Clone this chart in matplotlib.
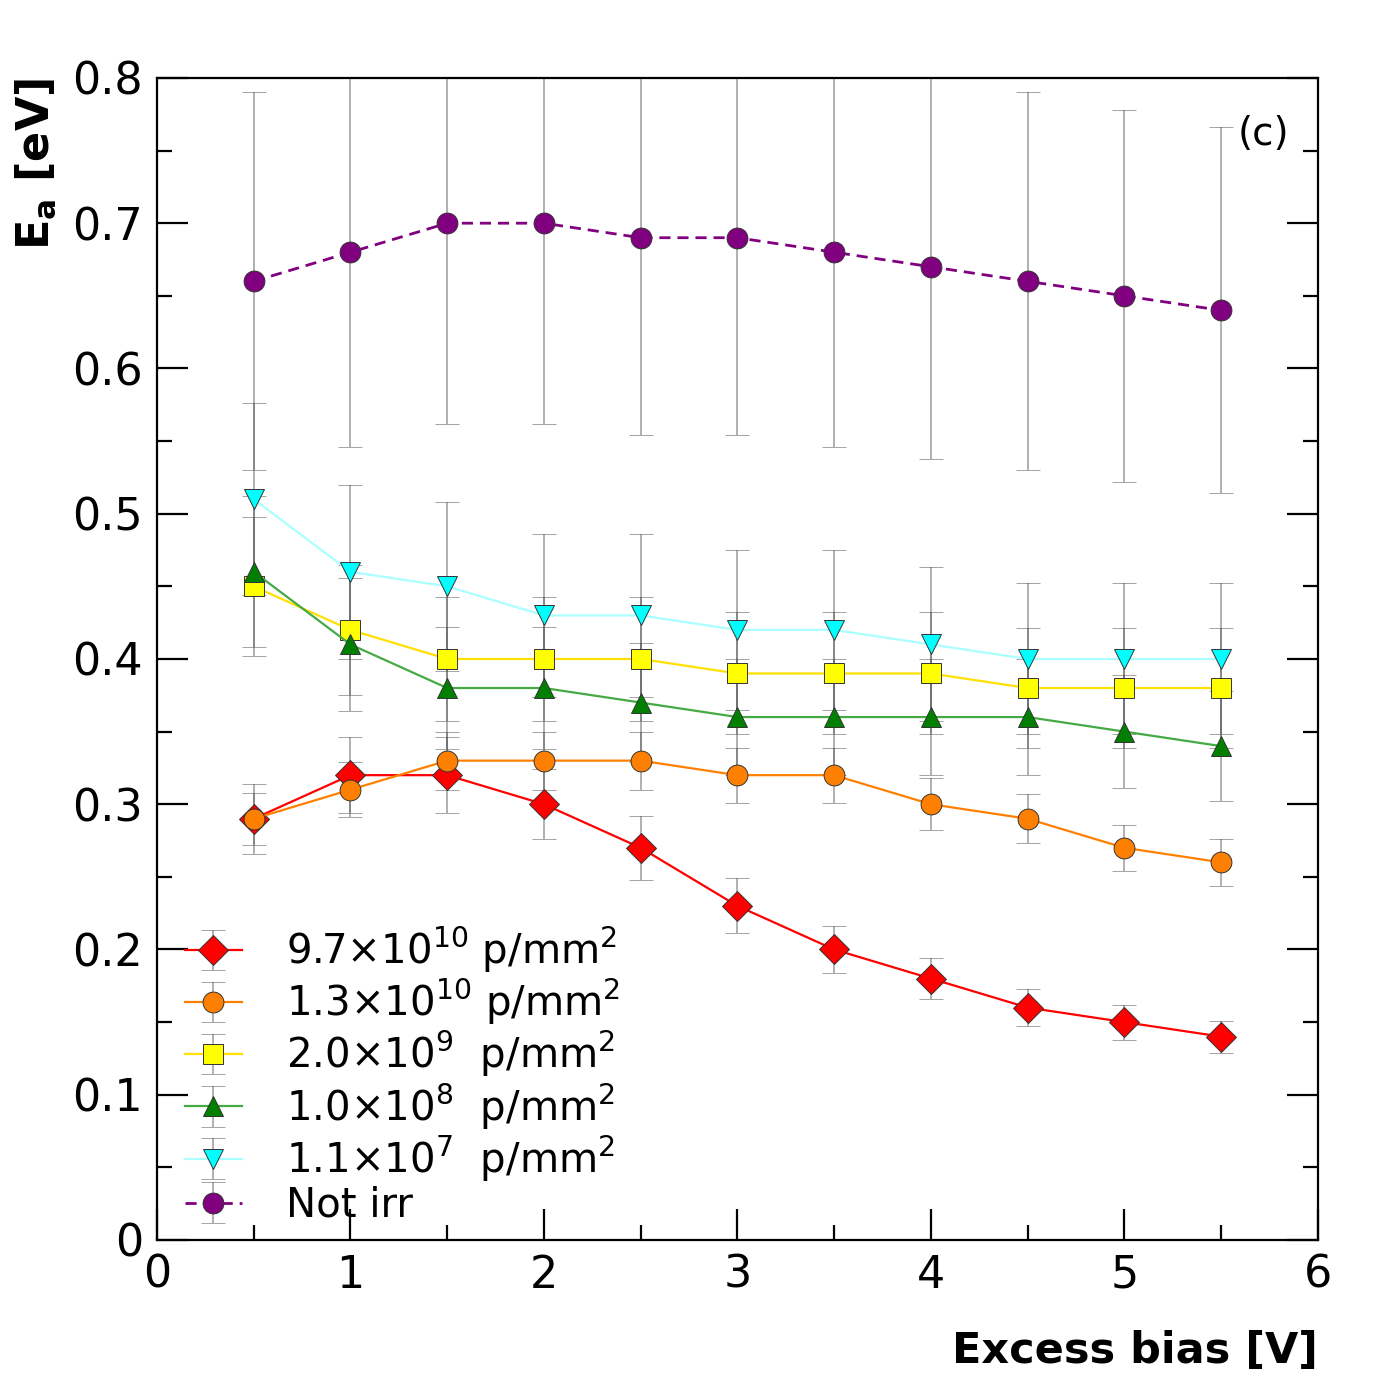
import matplotlib
matplotlib.use("Agg")
import matplotlib.pyplot as plt
from matplotlib.ticker import MultipleLocator, FixedLocator, FixedFormatter

# excess bias points [V]
bias = [0.5, 1.0, 1.5, 2.0, 2.5, 3.0, 3.5, 4.0, 4.5, 5.0, 5.5]

ea_97e10 = [0.29, 0.32, 0.32, 0.30, 0.27, 0.23, 0.20, 0.18, 0.16, 0.15, 0.14]
err_97e10 = [0.024, 0.026, 0.026, 0.024, 0.022, 0.019, 0.016, 0.014, 0.013, 0.012, 0.011]

ea_13e10 = [0.29, 0.31, 0.33, 0.33, 0.33, 0.32, 0.32, 0.30, 0.29, 0.27, 0.26]
err_13e10 = [0.018, 0.019, 0.020, 0.020, 0.020, 0.019, 0.019, 0.018, 0.017, 0.016, 0.016]

ea_20e9 = [0.45, 0.42, 0.40, 0.40, 0.40, 0.39, 0.39, 0.39, 0.38, 0.38, 0.38]
err_20e9 = [0.048, 0.045, 0.043, 0.043, 0.043, 0.042, 0.042, 0.042, 0.041, 0.041, 0.041]

ea_10e8 = [0.46, 0.41, 0.38, 0.38, 0.37, 0.36, 0.36, 0.36, 0.36, 0.35, 0.34]
err_10e8 = [0.052, 0.046, 0.042, 0.042, 0.041, 0.040, 0.040, 0.040, 0.040, 0.039, 0.038]

ea_11e7 = [0.51, 0.46, 0.45, 0.43, 0.43, 0.42, 0.42, 0.41, 0.40, 0.40, 0.40]
err_11e7 = [0.066, 0.060, 0.058, 0.056, 0.056, 0.055, 0.055, 0.053, 0.052, 0.052, 0.052]

ea_notirr = [0.66, 0.68, 0.70, 0.70, 0.69, 0.69, 0.68, 0.67, 0.66, 0.65, 0.64]
err_notirr = [0.130, 0.134, 0.138, 0.138, 0.136, 0.136, 0.134, 0.132, 0.130, 0.128, 0.126]

labels = [
    r"9.7×10$^{10}$ p/mm$^{2}$",
    r"1.3×10$^{10}$ p/mm$^{2}$",
    r"2.0×10$^{9}$  p/mm$^{2}$",
    r"1.0×10$^{8}$  p/mm$^{2}$",
    r"1.1×10$^{7}$  p/mm$^{2}$",
    "Not irr",
]

# values, errors, marker, marker colour, line colour, line style, line width
series = [
    (ea_97e10, err_97e10, "D", "#ff0000", "#ff0000", "-", 1.6),
    (ea_13e10, err_13e10, "o", "#ff8000", "#ff8000", "-", 1.6),
    (ea_20e9, err_20e9, "s", "#ffff00", "#ffe000", "-", 1.6),
    (ea_10e8, err_10e8, "^", "#007f00", "#44aa44", "-", 1.6),
    (ea_11e7, err_11e7, "v", "#00ffff", "#aaffff", "-", 1.6),
    (ea_notirr, err_notirr, "o", "#800080", "#800080", (0, (4, 2.5)), 2.0),
]

plt.rcParams["font.family"] = ["DejaVu Sans"]
plt.rcParams["mathtext.fontset"] = "dejavusans"

fig = plt.figure(figsize=(13.77, 13.77), dpi=100)
ax = fig.add_axes([0.114, 0.0995, 0.843, 0.8439])

handles = []
for (vals, errs, marker, mcolor, lcolor, ls, lw), lab in zip(series, labels):
    cont = ax.errorbar(
        bias, vals, yerr=errs,
        fmt=marker, linestyle=ls, color=lcolor,
        markerfacecolor=mcolor, markeredgecolor="#333333", markeredgewidth=0.7,
        markersize=15, linewidth=lw,
        ecolor=(0.35, 0.35, 0.35, 0.55), elinewidth=1.2, capsize=8.5, capthick=1.2,
        label=lab,
    )
    handles.append(cont)

ax.set_xlim(0, 6)
ax.set_ylim(0, 0.8)

ax.xaxis.set_major_locator(MultipleLocator(1))
ax.xaxis.set_minor_locator(MultipleLocator(0.5))
ax.yaxis.set_major_locator(FixedLocator([0, 0.1, 0.2, 0.3, 0.4, 0.5, 0.6, 0.7, 0.8]))
ax.yaxis.set_major_formatter(FixedFormatter(["0", "0.1", "0.2", "0.3", "0.4", "0.5", "0.6", "0.7", "0.8"]))
ax.yaxis.set_minor_locator(MultipleLocator(0.05))

ax.tick_params(which="both", direction="in", top=False, right=True, width=1.6, labelsize=32, pad=10)
ax.tick_params(which="major", length=22)
ax.tick_params(which="minor", length=11)
for sp in ax.spines.values():
    sp.set_linewidth(1.6)

ax.set_xlabel("Excess bias [V]", fontsize=31, fontweight="bold", loc="right", labelpad=24)
ax.set_ylabel(r"$\mathbf{E_a}$ [eV]", fontsize=32, fontweight="bold", loc="top", labelpad=10)

ax.text(0.975, 0.968, "(c)", transform=ax.transAxes, fontsize=28, ha="right", va="top")

leg = ax.legend(
    handles=handles, labels=labels, loc="lower left", bbox_to_anchor=(0.007, -0.005),
    frameon=False, fontsize=29, handlelength=1.4, handletextpad=1.1,
    labelspacing=0.05, borderpad=0.3, borderaxespad=0.2,
)

fig.savefig("out.png", dpi=100)
